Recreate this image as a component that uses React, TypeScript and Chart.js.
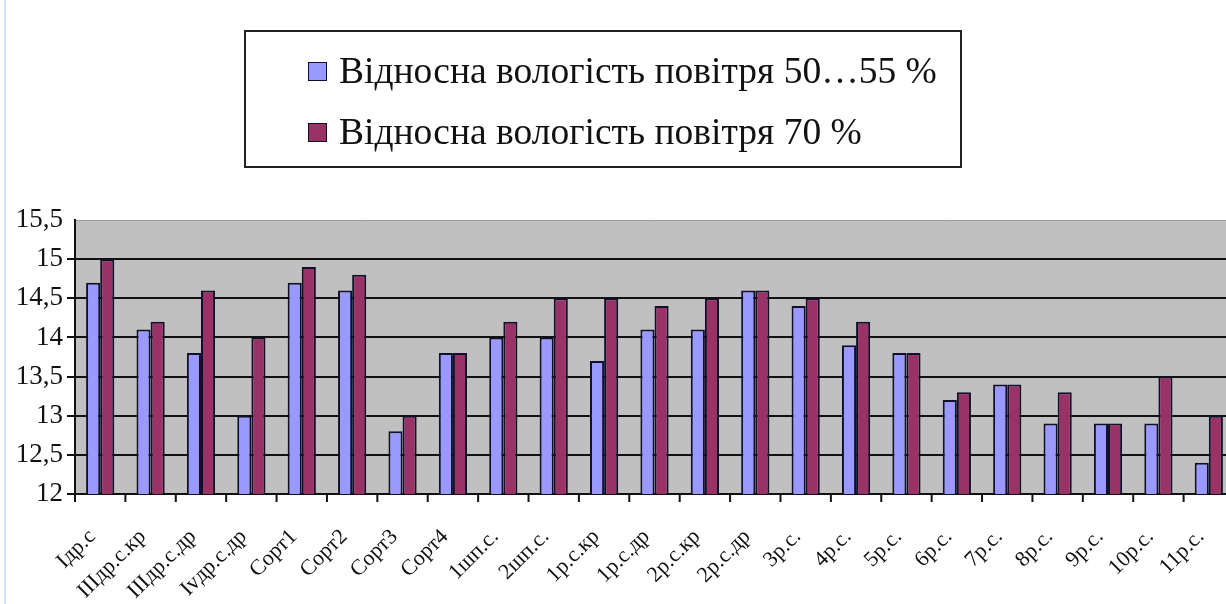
import React, { useEffect, useRef } from "react";
import { Chart, registerables } from "chart.js";

Chart.register(...registerables);

const categories = [
  "Ідр.с", "ІІІдр.с.кр", "ІІІдр.с.др", "Іvдр.с.др", "Сорт1", "Сорт2", "Сорт3", "Сорт4",
  "1шп.с.", "2шп.с.", "1р.с.кр", "1р.с.др", "2р.с.кр", "2р.с.др", "3р.с.", "4р.с.",
  "5р.с.", "6р.с.", "7р.с.", "8р.с.", "9р.с.", "10р.с.", "11р.с.",
];

const humidity50to55 = [
  14.7, 14.1, 13.8, 13.0, 14.7, 14.6, 12.8, 13.8, 14.0, 14.0, 13.7, 14.1,
  14.1, 14.6, 14.4, 13.9, 13.8, 13.2, 13.4, 12.9, 12.9, 12.9, 12.4,
];

const humidity70 = [
  15.0, 14.2, 14.6, 14.0, 14.9, 14.8, 13.0, 13.8, 14.2, 14.5, 14.5, 14.4,
  14.5, 14.6, 14.5, 14.2, 13.8, 13.3, 13.4, 13.3, 12.9, 13.5, 13.0,
];

const seriesLabels = [
  "Відносна вологість повітря 50…55 %",
  "Відносна вологість повітря 70 %",
];

const seriesColors = ["#9999ff", "#993366"];

const yMin = 12;
const yMax = 15.5;
const yStep = 0.5;

const FONT = "'Liberation Serif', 'Times New Roman', serif";

const plotBackground = {
  id: "plotBackground",
  beforeDraw(chart: any) {
    const { ctx, chartArea } = chart;
    if (!chartArea) return;
    ctx.save();
    ctx.fillStyle = "#c0c0c0";
    ctx.fillRect(chartArea.left, chartArea.top, chartArea.right - chartArea.left, chartArea.bottom - chartArea.top);
    ctx.strokeStyle = "#9a9a9a";
    ctx.lineWidth = 1;
    ctx.beginPath();
    ctx.moveTo(chartArea.left, chartArea.top + 0.5);
    ctx.lineTo(chartArea.right, chartArea.top + 0.5);
    ctx.stroke();
    ctx.restore();
  },
  afterDraw(chart: any) {
    const { ctx, chartArea } = chart;
    const xs = chart.scales.x;
    if (!xs) return;
    const n = chart.data.labels.length;
    const step = (chartArea.right - chartArea.left) / n;
    ctx.save();
    ctx.strokeStyle = "#111";
    ctx.lineWidth = 2;
    ctx.beginPath();
    for (let i = 0; i <= n; i++) {
      const x = i < n ? xs.getPixelForValue(i) - step / 2 : xs.getPixelForValue(n - 1) + step / 2;
      ctx.moveTo(x, chartArea.bottom);
      ctx.lineTo(x, chartArea.bottom + 8);
    }
    ctx.stroke();
    ctx.restore();
  },
};

export default function App() {
  const canvasRef = useRef<HTMLCanvasElement>(null);

  useEffect(() => {
    if (!canvasRef.current) return;
    const chart = new Chart(canvasRef.current, {
      type: "bar",
      data: {
        labels: categories,
        datasets: [
          {
            label: seriesLabels[0],
            data: humidity50to55,
            backgroundColor: seriesColors[0],
            borderColor: "#10102a",
            borderWidth: 2,
          },
          {
            label: seriesLabels[1],
            data: humidity70,
            backgroundColor: seriesColors[1],
            borderColor: "#10102a",
            borderWidth: 2,
          },
        ],
      },
      options: {
        responsive: false,
        animation: false,
        layout: { padding: { top: 220, right: 6, left: 0, bottom: 0 } },
        plugins: {
          legend: { display: false },
          tooltip: { enabled: false },
        },
        datasets: {
          bar: { categoryPercentage: 0.56, barPercentage: 1 },
        },
        scales: {
          x: {
            afterFit: (scale: any) => {
              scale.height = 110;
              scale.paddingLeft = 0;
              scale.paddingRight = 0;
            },
            grid: {
              display: false,
            },
            border: { display: true, color: "#111", width: 2 },
            ticks: {
              minRotation: 45,
              maxRotation: 45,
              autoSkip: false,
              padding: 22,
              labelOffset: -8,
              color: "#111",
              font: { family: FONT, size: 22 },
            },
          },
          y: {
            min: yMin,
            max: yMax,
            afterFit: (scale: any) => {
              scale.width = 75;
            },
            grid: {
              color: (ctx: any) => (ctx.tick && ctx.tick.value >= yMax ? "rgba(0,0,0,0)" : "#111"),
              lineWidth: 2,
              drawTicks: true,
              tickLength: 8,
            },
            border: { display: true, color: "#111", width: 2 },
            ticks: {
              stepSize: yStep,
              padding: 4,
              color: "#111",
              font: { family: FONT, size: 27 },
              callback: (v: any) => String(Number(v)).replace(".", ","),
            },
          },
        },
      },
      plugins: [plotBackground],
    });
    return () => chart.destroy();
  }, []);

  return (
    <div
      style={{
        position: "absolute",
        left: 0,
        top: 0,
        width: 1226,
        height: 604,
        overflow: "hidden",
        background: "#fff",
      }}
    >
      <div
        style={{
          position: "absolute",
          left: 4,
          top: 0,
          width: 2,
          height: 604,
          background: "#d6e2f4",
        }}
      />
      <canvas
        ref={canvasRef}
        width={1240}
        height={604}
        style={{ position: "absolute", left: 0, top: 0, width: 1240, height: 604 }}
      />
      <div
        style={{
          position: "absolute",
          left: 244,
          top: 30,
          width: 714,
          height: 134,
          border: "2px solid #222",
          boxSizing: "content-box",
          fontFamily: FONT,
          fontSize: 37.5,
          color: "#111",
        }}
      >
        {seriesLabels.map((label, i) => (
          <div
            key={label}
            style={{
              position: "absolute",
              left: 62,
              top: i === 0 ? 17 : 78,
              display: "flex",
              alignItems: "center",
              whiteSpace: "nowrap",
              lineHeight: "44px",
            }}
          >
            <span
              style={{
                display: "inline-block",
                width: 17,
                height: 17,
                background: seriesColors[i],
                border: "1.5px solid #10102a",
                marginRight: 12,
              }}
            />
            <span>{label}</span>
          </div>
        ))}
      </div>
    </div>
  );
}
